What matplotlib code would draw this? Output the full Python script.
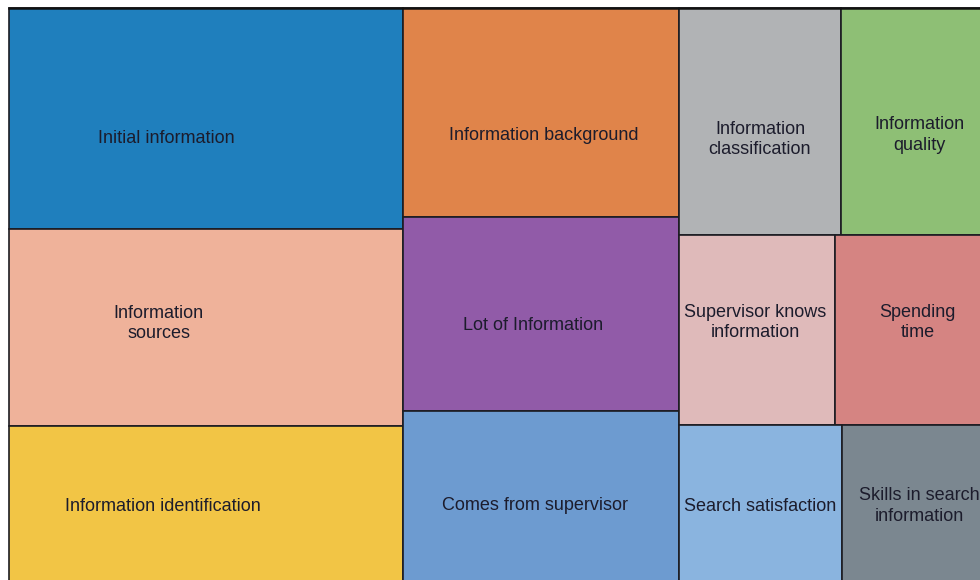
"""
Treemap of information-seeking themes, drawn with plain matplotlib rectangles.
"""

import matplotlib.pyplot as plt
from matplotlib.patches import Rectangle

labels = [
    "Initial information", "Information\nsources", "Information identification",
    "Information background", "Lot of Information", "Comes from supervisor",
    "Information\nclassification", "Information\nquality",
    "Supervisor knows\ninformation", "Spending\ntime",
    "Search satisfaction", "Skills in search\ninformation",
]
values = [87.5, 77.5, 65, 57.5, 53.5, 49.5, 37, 36, 30, 31.5, 27, 26]

# columns -> rows -> cells (indices into labels / values)
layout = [
    [[0], [1], [2]],
    [[3], [4], [5]],
    [[6, 7], [8, 9], [10, 11]],
]

colors = [
    "#1f7fbd", "#efb29a", "#f2c545",
    "#e0844a", "#915ba8", "#6d9bd0",
    "#b1b3b5", "#8ebf75", "#dfbaba", "#d58482", "#8ab4df", "#7b8790",
]
# where the label sits inside its box (fraction of width, fraction of height from top)
label_pos = [
    (0.40, 0.59), (0.38, 0.48), (0.39, 0.49),
    (0.51, 0.61), (0.47, 0.56), (0.48, 0.53),
    (0.50, 0.58), (0.49, 0.56), (0.49, 0.46), (0.50, 0.46), (0.50, 0.49), (0.49, 0.49),
]

# full treemap extent in pixel space; the picture crops its right and bottom edge
X0, Y0, W, H = 9, 8, 991, 582


def slice_layout():
    rects = {}
    total = sum(values)
    x = X0
    for col in layout:
        col_sum = sum(values[i] for row in col for i in row)
        col_w = W * col_sum / total
        y = Y0
        for row in col:
            row_sum = sum(values[i] for i in row)
            row_h = H * row_sum / col_sum
            cx = x
            for i in row:
                cell_w = col_w * values[i] / row_sum
                rects[i] = (cx, y, cell_w, row_h)
                cx += cell_w
            y += row_h
        x += col_w
    return rects


fig = plt.figure(figsize=(9.8, 5.8), dpi=100)
ax = fig.add_axes([0, 0, 1, 1])
ax.set_xlim(0, 980)
ax.set_ylim(580, 0)
ax.axis("off")

for i, (x, y, w, h) in slice_layout().items():
    ax.add_patch(Rectangle((x, y), w, h, facecolor=colors[i],
                           edgecolor="#1c1c22", linewidth=1.2))
    fx, fy = label_pos[i]
    ax.text(x + fx * w, y + fy * h, labels[i], ha="center", va="center",
            fontsize=13, family="Liberation Sans", color="#1c1c2c",
            linespacing=1.25, clip_on=False)

# slightly heavier frame on top, as in the original
ax.plot([X0, X0 + W], [Y0, Y0], color="#111111", linewidth=1.8)

fig.savefig("out.png", dpi=100)
